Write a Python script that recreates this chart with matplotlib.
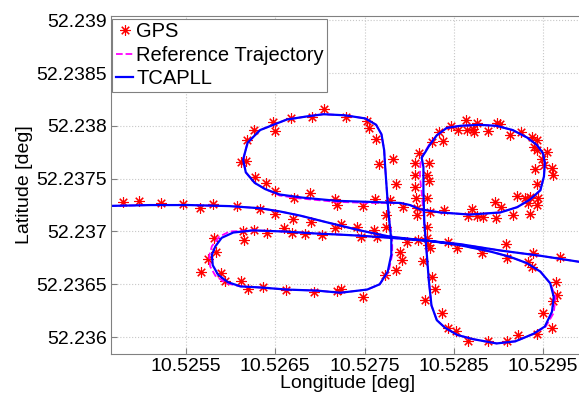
import numpy as np
import matplotlib
matplotlib.use("Agg")
import matplotlib.pyplot as plt
from matplotlib.ticker import FuncFormatter

plt.rcParams["font.family"] = ["Liberation Sans", "DejaVu Sans"]

# raw GPS fixes (deg)
GPS_LON = [
    10.52479, 10.52497, 10.52522, 10.52547, 10.52566, 10.52580, 10.52607, 10.52633,
    10.52650, 10.52670, 10.52690, 10.52717, 10.52724, 10.52742, 10.52761, 10.52774,
    10.52746, 10.52764, 10.52798, 10.52810, 10.52820, 10.52821, 10.52844, 10.52854,
    10.52882, 10.52909, 10.52910, 10.52939, 10.52969, 10.52933, 10.52938,
    10.52581, 10.52584, 10.52575, 10.52567, 10.52589, 10.52594, 10.52612, 10.52619,
    10.52636, 10.52662, 10.52693, 10.52719, 10.52724, 10.52614, 10.52615, 10.52626,
    10.52641, 10.52660, 10.52669, 10.52683, 10.52702, 10.52748, 10.52773, 10.52785,
    10.52792, 10.52790, 10.52774,
    10.52705, 10.52729, 10.52691, 10.52668, 10.52647, 10.52650, 10.52626, 10.52618,
    10.52612, 10.52617, 10.52627, 10.52640, 10.52650, 10.52671, 10.52689, 10.52717,
    10.52719, 10.52748, 10.52762, 10.52779, 10.52753, 10.52755, 10.52763, 10.52782,
    10.52766, 10.52785,
    10.52806, 10.52822, 10.52808, 10.52820, 10.52793, 10.52809, 10.52809, 10.52823,
    10.52839, 10.52820, 10.52823, 10.52816, 10.52826, 10.52829, 10.52818, 10.52837,
    10.52844, 10.52852, 10.52866, 10.52888, 10.52910, 10.52922, 10.52943, 10.52950,
    10.52960, 10.52961, 10.52966, 10.52964,
    10.52807, 10.52807, 10.52811, 10.52820, 10.52822, 10.52826, 10.52838, 10.52833,
    10.52864, 10.52847, 10.52855, 10.52865, 10.52872, 10.52876, 10.52873, 10.52888,
    10.52898, 10.52902, 10.52913, 10.52925, 10.52938, 10.52943, 10.52940, 10.52943,
    10.52954, 10.52949, 10.52951, 10.52960, 10.52961, 10.52941, 10.52943, 10.52921,
    10.52930, 10.52935, 10.52933, 10.52944, 10.52943, 10.52935, 10.52896, 10.52903,
    10.52897, 10.52916, 10.52870, 10.52866, 10.52876, 10.52883,
]
GPS_LAT = [
    52.23728, 52.23729, 52.23727, 52.23726, 52.23722, 52.23726, 52.23724, 52.23721,
    52.23717, 52.23712, 52.23709, 52.23703, 52.23707, 52.23704, 52.23701, 52.23704,
    52.23695, 52.23695, 52.23690, 52.23692, 52.23694, 52.23687, 52.23690, 52.23684,
    52.23680, 52.23688, 52.23675, 52.23680, 52.23676, 52.23671, 52.23666,
    52.23694, 52.23681, 52.23674, 52.23662, 52.23661, 52.23653, 52.23653, 52.23646,
    52.23647, 52.23645, 52.23643, 52.23644, 52.23646, 52.23700, 52.23692, 52.23701,
    52.23699, 52.23703, 52.23699, 52.23698, 52.23697, 52.23638, 52.23659, 52.23664,
    52.23673, 52.23681, 52.23716,
    52.23816, 52.23808, 52.23808, 52.23807, 52.23804, 52.23795, 52.23796, 52.23787,
    52.23766, 52.23767, 52.23752, 52.23746, 52.23738, 52.23732, 52.23736, 52.23731,
    52.23725, 52.23724, 52.23731, 52.23730, 52.23805, 52.23798, 52.23788, 52.23769,
    52.23764, 52.23745,
    52.23742, 52.23748, 52.23732, 52.23732, 52.23723, 52.23722, 52.23716, 52.23718,
    52.23720, 52.23704, 52.23684, 52.23672, 52.23657, 52.23646, 52.23635, 52.23623,
    52.23609, 52.23606, 52.23596, 52.23596, 52.23596, 52.23602, 52.23603, 52.23623,
    52.23609, 52.23634, 52.23640, 52.23652,
    52.23765, 52.23753, 52.23774, 52.23753, 52.23765, 52.23785, 52.23786, 52.23794,
    52.23806, 52.23800, 52.23796, 52.23796, 52.23797, 52.23803, 52.23794, 52.23795,
    52.23803, 52.23802, 52.23791, 52.23794, 52.23789, 52.23787, 52.23780, 52.23777,
    52.23775, 52.23769, 52.23763, 52.23760, 52.23753, 52.23759, 52.23745, 52.23734,
    52.23732, 52.23733, 52.23727, 52.23732, 52.23725, 52.23717, 52.23728, 52.23723,
    52.23713, 52.23716, 52.23721, 52.23715, 52.23715, 52.23714,
]

# TCAPLL estimate: straight pass west->east, then the clover loop (nan splits them)
TCAPLL_LON = [
    10.52454, 10.52510, 10.52554, 10.52599, 10.52633, 10.52655, 10.52678, 10.52711,
    10.52745, 10.52779, 10.52812, 10.52857, 10.52902, 10.52947, 10.53008, np.nan,
    10.52779, 10.52745, 10.52723, 10.52697, 10.52659, 10.52625, 10.52603, 10.52590,
    10.52583, 10.52579, 10.52580, 10.52586, 10.52597, 10.52611, 10.52633, 10.52663,
    10.52697, 10.52723, 10.52753, 10.52767, 10.52776, 10.52780, 10.52780, 10.52777,
    10.52775, 10.52773, 10.52772, 10.52769, 10.52763, 10.52751, 10.52728, 10.52704,
    10.52686, 10.52663, 10.52633, 10.52619, 10.52614, 10.52617, 10.52627, 10.52639,
    10.52655, 10.52681, 10.52719, 10.52756, 10.52790, 10.52801, 10.52812, 10.52835,
    10.52868, 10.52902, 10.52921, 10.52935, 10.52947, 10.52951, 10.52952, 10.52950,
    10.52943, 10.52932, 10.52916, 10.52898, 10.52879, 10.52857, 10.52842, 10.52831,
    10.52823, 10.52818, 10.52814, 10.52816, 10.52816, 10.52817, 10.52820, 10.52822,
    10.52825, 10.52831, 10.52840, 10.52854, 10.52872, 10.52898, 10.52919, 10.52939,
    10.52952, 10.52960, 10.52962, 10.52958, 10.52947, 10.52932, 10.52913, 10.52891,
    10.52857, 10.52823, 10.52779,
]
TCAPLL_LAT = [
    52.23724, 52.23725, 52.23725, 52.23724, 52.23722, 52.23719, 52.23715, 52.23708,
    52.23701, 52.23695, 52.23692, 52.23688, 52.23682, 52.23677, 52.23669, np.nan,
    52.23694, 52.23696, 52.23697, 52.23698, 52.23700, 52.23701, 52.23699, 52.23694,
    52.23686, 52.23678, 52.23668, 52.23659, 52.23652, 52.23648, 52.23647, 52.23645,
    52.23644, 52.23642, 52.23645, 52.23650, 52.23662, 52.23678, 52.23692, 52.23716,
    52.23739, 52.23763, 52.23777, 52.23792, 52.23801, 52.23807, 52.23810, 52.23811,
    52.23809, 52.23806, 52.23796, 52.23784, 52.23768, 52.23756, 52.23746, 52.23740,
    52.23735, 52.23732, 52.23729, 52.23728, 52.23727, 52.23725, 52.23721, 52.23718,
    52.23716, 52.23718, 52.23723, 52.23730, 52.23739, 52.23752, 52.23765, 52.23774,
    52.23782, 52.23789, 52.23796, 52.23800, 52.23801, 52.23800, 52.23798, 52.23791,
    52.23782, 52.23775, 52.23770, 52.23761, 52.23739, 52.23708, 52.23676, 52.23654,
    52.23630, 52.23616, 52.23609, 52.23602, 52.23598, 52.23594, 52.23596, 52.23603,
    52.23610, 52.23624, 52.23638, 52.23651, 52.23662, 52.23670, 52.23676, 52.23681,
    52.23687, 52.23691, 52.23694,
]

# reference trajectory (differs from TCAPLL at a few turns)
REF_LON = [
    10.52454, 10.52510, 10.52554, 10.52599, 10.52633, 10.52655, 10.52678, 10.52711,
    10.52745, 10.52779, 10.52812, 10.52857, 10.52902, 10.52947, 10.53008, np.nan,
    10.52779, 10.52745, 10.52723, 10.52697, 10.52659, 10.52625, 10.52599, 10.52587,
    10.52579, 10.52576, 10.52577, 10.52583, 10.52595, 10.52611, 10.52633, 10.52663,
    10.52697, 10.52723, 10.52753, 10.52767, 10.52777, 10.52781, 10.52781, 10.52777,
    10.52775, 10.52773, 10.52772, 10.52769, 10.52763, 10.52751, 10.52728, 10.52704,
    10.52686, 10.52663, 10.52633, 10.52619, 10.52614, 10.52617, 10.52627, 10.52639,
    10.52655, 10.52681, 10.52719, 10.52756, 10.52790, 10.52801, 10.52812, 10.52835,
    10.52868, 10.52902, 10.52921, 10.52935, 10.52947, 10.52951, 10.52952, 10.52950,
    10.52943, 10.52932, 10.52916, 10.52898, 10.52879, 10.52857, 10.52842, 10.52831,
    10.52823, 10.52818, 10.52813, 10.52812, 10.52814, 10.52817, 10.52820, 10.52822,
    10.52825, 10.52831, 10.52840, 10.52854, 10.52872, 10.52898, 10.52919, 10.52939,
    10.52953, 10.52962, 10.52964, 10.52958, 10.52947, 10.52932, 10.52913, 10.52891,
    10.52857, 10.52823, 10.52779,
]
REF_LAT = [
    52.23724, 52.23725, 52.23725, 52.23724, 52.23722, 52.23719, 52.23715, 52.23708,
    52.23701, 52.23695, 52.23692, 52.23688, 52.23682, 52.23677, 52.23669, np.nan,
    52.23694, 52.23696, 52.23697, 52.23698, 52.23700, 52.23701, 52.23700, 52.23695,
    52.23686, 52.23677, 52.23667, 52.23658, 52.23651, 52.23648, 52.23647, 52.23645,
    52.23644, 52.23642, 52.23645, 52.23650, 52.23662, 52.23678, 52.23692, 52.23716,
    52.23739, 52.23763, 52.23777, 52.23792, 52.23801, 52.23807, 52.23810, 52.23811,
    52.23809, 52.23806, 52.23796, 52.23784, 52.23768, 52.23756, 52.23746, 52.23740,
    52.23734, 52.23731, 52.23728, 52.23727, 52.23727, 52.23725, 52.23721, 52.23718,
    52.23716, 52.23718, 52.23723, 52.23730, 52.23739, 52.23752, 52.23765, 52.23774,
    52.23782, 52.23789, 52.23796, 52.23800, 52.23801, 52.23800, 52.23798, 52.23791,
    52.23783, 52.23776, 52.23768, 52.23753, 52.23737, 52.23708, 52.23676, 52.23654,
    52.23630, 52.23616, 52.23609, 52.23602, 52.23598, 52.23594, 52.23596, 52.23603,
    52.23610, 52.23623, 52.23638, 52.23651, 52.23662, 52.23670, 52.23676, 52.23681,
    52.23687, 52.23691, 52.23694,
]

XTICKS = [10.5255, 10.5265, 10.5275, 10.5285, 10.5295]
YTICKS = [52.236, 52.2365, 52.237, 52.2375, 52.238, 52.2385, 52.239]

fig = plt.figure(figsize=(5.79, 3.99), dpi=100)
ax = fig.add_axes([111 / 579, 45 / 399, 474 / 579, 338 / 399])

ax.plot(GPS_LON, GPS_LAT, linestyle="none", marker=(8, 2, 0), markersize=7.5,
        markeredgewidth=0.8, color="#ff0000", label="GPS")
ax.plot(REF_LON, REF_LAT, "--", color="#ff00ff", linewidth=1.3,
        label="Reference Trajectory")
ax.plot(TCAPLL_LON, TCAPLL_LAT, "-", color="#0000ff", linewidth=1.6, label="TCAPLL")

ax.set_xlim(10.52466, 10.52997)
ax.set_ylim(52.23584, 52.23904)
ax.set_xticks(XTICKS)
ax.set_yticks(YTICKS)
fmt = FuncFormatter(lambda v, p: f"{v:.4f}".rstrip("0").rstrip("."))
ax.xaxis.set_major_formatter(fmt)
ax.yaxis.set_major_formatter(fmt)
ax.tick_params(direction="in", length=4, width=0.8, color="#808080",
               labelsize=14, pad=3)
ax.grid(True, linestyle=":", color="#c8c8c8", linewidth=0.8)
for s in ax.spines.values():
    s.set_color("#808080")
    s.set_linewidth(0.8)

ax.set_xlabel("Longitude [deg]", fontsize=14, labelpad=0)
ax.set_ylabel("Latitude [deg]", fontsize=14, labelpad=2)

leg = ax.legend(loc="upper left", bbox_to_anchor=(0.003, 0.992), fontsize=14.5,
                fancybox=False, framealpha=1, edgecolor="#808080",
                handlelength=0.85, handletextpad=0.15, labelspacing=0.22,
                borderpad=0.18, borderaxespad=0.0)
leg.get_frame().set_linewidth(0.8)

fig.savefig("out.png", dpi=100)
